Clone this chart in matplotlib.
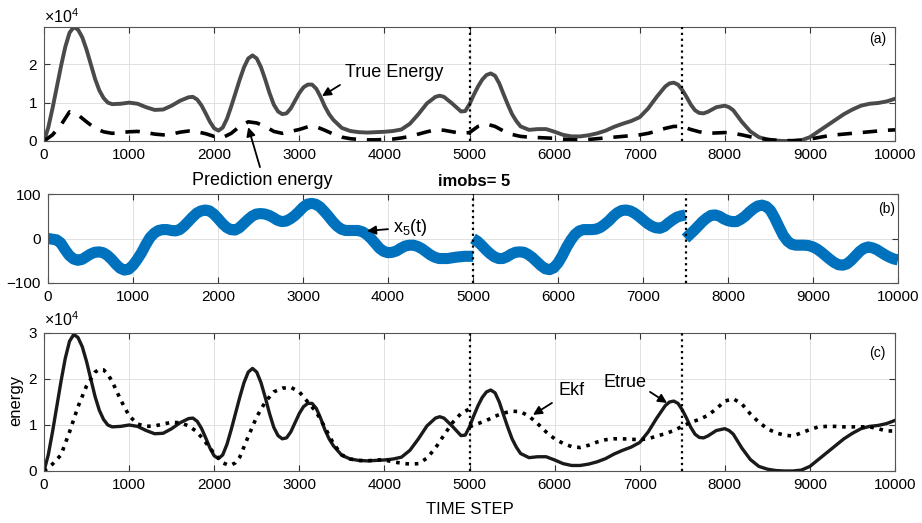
import numpy as np
import matplotlib
matplotlib.use("Agg")
import matplotlib.pyplot as plt

plt.rcParams['font.family'] = ['Liberation Sans', 'DejaVu Sans']
plt.rcParams['mathtext.fontset'] = 'custom'
plt.rcParams['mathtext.rm'] = 'Liberation Sans'
plt.rcParams['mathtext.it'] = 'Liberation Sans:italic'

# true energy (x1e4), (time step, value)
true_pts = [
    (0, 0.00), (50, 0.35), (100, 0.85), (150, 1.40), (200, 1.95), (250, 2.45),
    (300, 2.82), (350, 2.97), (400, 2.90), (450, 2.70), (500, 2.38), (550, 2.00),
    (600, 1.62), (650, 1.32), (700, 1.12), (750, 1.00), (800, 0.96), (900, 0.97),
    (1000, 1.00), (1100, 0.97), (1200, 0.88), (1300, 0.81), (1400, 0.82), (1500, 0.92),
    (1600, 1.05), (1700, 1.14), (1750, 1.15), (1800, 1.08), (1850, 0.93), (1900, 0.72),
    (1950, 0.50), (2000, 0.33), (2050, 0.27), (2100, 0.35), (2150, 0.58), (2200, 0.90),
    (2250, 1.25), (2300, 1.60), (2350, 1.92), (2400, 2.15), (2450, 2.23), (2500, 2.15),
    (2550, 1.92), (2600, 1.60), (2650, 1.25), (2700, 0.95), (2750, 0.77), (2800, 0.70),
    (2850, 0.72), (2900, 0.85), (2950, 1.05), (3000, 1.25), (3050, 1.40), (3100, 1.47),
    (3150, 1.47), (3200, 1.36), (3250, 1.15), (3300, 0.90), (3350, 0.70), (3400, 0.55),
    (3500, 0.34), (3600, 0.26), (3700, 0.23), (3800, 0.22), (3900, 0.23), (4000, 0.24),
    (4100, 0.26), (4200, 0.30), (4300, 0.45), (4400, 0.70), (4500, 0.98), (4600, 1.15),
    (4650, 1.18), (4700, 1.15), (4800, 0.97), (4900, 0.77), (4950, 0.78), (5000, 0.96),
    (5050, 1.20), (5100, 1.42), (5150, 1.60), (5200, 1.72), (5250, 1.76), (5300, 1.70),
    (5350, 1.50), (5400, 1.22), (5450, 0.95), (5500, 0.70), (5550, 0.52), (5600, 0.38),
    (5700, 0.29), (5800, 0.31), (5900, 0.31), (6000, 0.24), (6100, 0.16), (6200, 0.12),
    (6300, 0.12), (6400, 0.15), (6500, 0.20), (6600, 0.27), (6700, 0.37), (6800, 0.45),
    (6900, 0.52), (7000, 0.62), (7100, 0.85), (7200, 1.15), (7300, 1.42), (7350, 1.50),
    (7400, 1.52), (7450, 1.47), (7500, 1.33), (7550, 1.15), (7600, 0.95), (7650, 0.80),
    (7700, 0.73), (7750, 0.72), (7800, 0.76), (7900, 0.88), (8000, 0.92), (8050, 0.88),
    (8100, 0.80), (8200, 0.50), (8300, 0.25), (8400, 0.10), (8500, 0.04), (8600, 0.01),
    (8700, 0.00), (8800, 0.00), (8900, 0.02), (9000, 0.10), (9100, 0.25), (9200, 0.40),
    (9300, 0.55), (9400, 0.70), (9500, 0.82), (9600, 0.92), (9700, 0.97), (9800, 0.99),
    (9900, 1.03), (10000, 1.10)]
t_true, e_true = zip(*true_pts)

# prediction energy (x1e4), step 100
t_pred = np.arange(0, 10001, 100)
e_pred = [
    0.00, 0.16, 0.42, 0.76, 0.68, 0.50, 0.33, 0.24, 0.20, 0.22,
    0.24, 0.25, 0.22, 0.18, 0.16, 0.18, 0.23, 0.26, 0.24, 0.19,
    0.12, 0.09, 0.20, 0.38, 0.50, 0.47, 0.38, 0.25, 0.20, 0.25,
    0.30, 0.37, 0.37, 0.28, 0.18, 0.10, 0.06, 0.04, 0.03, 0.03,
    0.04, 0.05, 0.08, 0.12, 0.18, 0.24, 0.29, 0.28, 0.24, 0.20,
    0.22, 0.38, 0.44, 0.38, 0.26, 0.17, 0.12, 0.10, 0.09, 0.08,
    0.07, 0.05, 0.03, 0.03, 0.04, 0.06, 0.08, 0.10, 0.12, 0.14,
    0.16, 0.20, 0.26, 0.33, 0.38, 0.38, 0.30, 0.24, 0.20, 0.21,
    0.22, 0.20, 0.16, 0.11, 0.07, 0.04, 0.02, 0.01, 0.01, 0.02,
    0.05, 0.09, 0.13, 0.16, 0.18, 0.20, 0.22, 0.24, 0.26, 0.28,
    0.29]

# Kalman filter energy (x1e4), jumps at 5000
ekf1_pts = [
    (0, 0.00), (100, 0.15), (200, 0.35), (300, 0.85), (400, 1.40), (500, 1.85),
    (600, 2.15), (650, 2.21), (700, 2.20), (750, 2.10), (800, 1.95), (900, 1.55),
    (1000, 1.20), (1100, 1.02), (1200, 0.97), (1300, 0.98), (1400, 1.02), (1500, 1.06),
    (1600, 1.05), (1700, 0.98), (1800, 0.85), (1900, 0.62), (2000, 0.38), (2100, 0.18),
    (2150, 0.14), (2200, 0.13), (2250, 0.18), (2300, 0.30), (2400, 0.75), (2500, 1.18),
    (2600, 1.50), (2700, 1.72), (2800, 1.80), (2900, 1.82), (3000, 1.72), (3100, 1.50),
    (3200, 1.28), (3300, 0.95), (3400, 0.60), (3500, 0.35), (3600, 0.26), (3700, 0.23),
    (3800, 0.22), (3900, 0.24), (4000, 0.24), (4100, 0.20), (4200, 0.17), (4300, 0.15),
    (4400, 0.16), (4500, 0.28), (4600, 0.50), (4700, 0.78), (4800, 1.05), (4900, 1.25),
    (5000, 1.35)]
t_ekf1, e_ekf1 = zip(*ekf1_pts)
t_ekf2 = np.arange(5000, 10001, 100)
e_ekf2 = [
    0.96, 1.03, 1.10, 1.19, 1.26, 1.30, 1.29, 1.19, 1.03, 0.85,
    0.70, 0.60, 0.53, 0.51, 0.56, 0.63, 0.68, 0.70, 0.70, 0.69,
    0.68, 0.70, 0.76, 0.81, 0.88, 0.97, 1.06, 1.12, 1.21, 1.35,
    1.52, 1.57, 1.46, 1.24, 1.06, 0.92, 0.83, 0.78, 0.76, 0.83,
    0.90, 0.96, 0.97, 0.97, 0.96, 0.96, 0.96, 0.96, 0.92, 0.87,
    0.87]

# state x5(t), reset at 5000 and 7500
x5_seg1 = [
    (0, 0), (100, -3), (150, -10), (200, -25), (250, -38), (300, -46), (350, -49),
    (400, -47), (450, -41), (500, -35), (550, -31), (600, -30), (650, -32), (700, -38),
    (750, -47), (800, -58), (850, -67), (900, -71), (950, -69), (1000, -60), (1050, -47),
    (1100, -32), (1150, -14), (1200, 2), (1250, 12), (1300, 18), (1350, 20), (1400, 20),
    (1450, 18), (1500, 17), (1550, 20), (1600, 28), (1650, 38), (1700, 48), (1750, 57),
    (1800, 62), (1850, 64), (1900, 62), (1950, 55), (2000, 45), (2050, 34), (2100, 25),
    (2150, 20), (2200, 19), (2250, 24), (2300, 33), (2350, 42), (2400, 50), (2450, 55),
    (2500, 56), (2550, 55), (2600, 52), (2650, 47), (2700, 41), (2750, 38), (2800, 39),
    (2850, 44), (2900, 51), (2950, 60), (3000, 70), (3050, 77), (3100, 79), (3150, 77),
    (3200, 71), (3250, 61), (3300, 50), (3350, 38), (3400, 28), (3450, 21), (3500, 18),
    (3600, 18), (3650, 18), (3700, 15), (3750, 9), (3800, 0), (3850, -11), (3900, -22),
    (3950, -29), (4000, -32), (4050, -31), (4100, -28), (4150, -22), (4200, -17),
    (4250, -15), (4300, -15), (4350, -18), (4400, -23), (4450, -30), (4500, -37),
    (4550, -42), (4600, -45), (4700, -45), (4800, -42), (4900, -40), (5000, -40)]
x5_seg2 = [
    (5000, 0), (5050, -6), (5100, -15), (5150, -25), (5200, -34), (5250, -41),
    (5300, -45), (5350, -45), (5400, -41), (5450, -35), (5500, -31), (5550, -30),
    (5600, -31), (5650, -36), (5700, -43), (5750, -52), (5800, -61), (5850, -68),
    (5900, -70), (5950, -66), (6000, -55), (6050, -39), (6100, -20), (6150, -4),
    (6200, 9), (6250, 17), (6300, 20), (6350, 20), (6400, 20), (6450, 21), (6500, 25),
    (6550, 32), (6600, 40), (6650, 50), (6700, 58), (6750, 63), (6800, 64), (6850, 62),
    (6900, 57), (6950, 50), (7000, 42), (7050, 34), (7100, 28), (7150, 24), (7200, 23),
    (7250, 27), (7300, 35), (7350, 42), (7400, 48), (7450, 51), (7500, 53)]
x5_seg3 = [
    (7500, 0), (7550, 9), (7600, 18), (7650, 28), (7700, 38), (7750, 46), (7800, 52),
    (7850, 53), (7900, 50), (7950, 44), (8000, 40), (8050, 38), (8100, 38), (8150, 43),
    (8200, 50), (8250, 59), (8300, 67), (8350, 73), (8400, 75), (8450, 72), (8500, 63),
    (8550, 46), (8600, 26), (8650, 7), (8700, -6), (8750, -13), (8800, -15), (8900, -15),
    (8950, -16), (9000, -19), (9050, -24), (9100, -31), (9150, -39), (9200, -47),
    (9250, -54), (9300, -59), (9350, -60), (9400, -57), (9450, -49), (9500, -39),
    (9550, -29), (9600, -22), (9650, -19), (9700, -21), (9750, -25), (9800, -31),
    (9850, -37), (9900, -42), (9950, -46), (10000, -48)]

obs_times = [5000, 7500]
xticks = np.arange(0, 10001, 1000)

fig = plt.figure(figsize=(9.22, 5.23), dpi=100)
W, H = 922, 523


def make_ax(left, top, right, bottom):
    return fig.add_axes([left / W, 1 - bottom / H, (right - left) / W, (bottom - top) / H])


def style(ax):
    ax.set_xlim(0, 10000)
    ax.set_xticks(xticks)
    ax.grid(True, color='#dcdcdc', lw=0.6)
    ax.set_axisbelow(True)
    ax.tick_params(direction='in', length=4, width=0.8, top=True, right=True,
                   labelsize=11, color='#333333', pad=5)
    for s in ax.spines.values():
        s.set_color('#555555')
        s.set_linewidth(0.8)
    for v in obs_times:
        ax.axvline(v, color='k', ls=':', lw=1.6, zorder=5)


arrow = dict(arrowstyle='-|>', color='k', lw=1.3, mutation_scale=13, shrinkA=0, shrinkB=0)

# (a)
ax1 = make_ax(44, 27, 895, 141)
style(ax1)
ax1.plot(t_true, e_true, color='#4a4a4a', lw=2.8)
ax1.plot(t_pred, e_pred, color='k', lw=2.6, ls=(0, (4, 3)))
ax1.set_ylim(0, 2.97)
ax1.set_yticks([0, 1, 2])
ax1.text(3537, 1.78, 'True Energy', fontsize=13, va='center', ha='left')
ax1.annotate('', xy=(3267, 1.17), xytext=(3478, 1.46), arrowprops=arrow)
ax1.text(2562, -1.02, 'Prediction energy', fontsize=13, va='center', ha='center',
         clip_on=False)
ax1.annotate('', xy=(2400, 0.36), xytext=(2538, -0.68), arrowprops=arrow,
             annotation_clip=False)
ax1.text(0.98, 0.895, '(a)', transform=ax1.transAxes, fontsize=10, ha='center', va='center')
fig.text(44 / W, 1 - 17 / H, '×10$^4$', fontsize=11.5, ha='left', va='center')

fig.text(474 / W, 1 - 181 / H, 'imobs= 5', fontsize=12, fontweight='bold',
         ha='center', va='center')

# (b)
ax2 = make_ax(48, 194, 898, 283)
style(ax2)
for seg in (x5_seg1, x5_seg2, x5_seg3):
    tx, xv = zip(*seg)
    ax2.plot(tx, xv, color='#0072BD', lw=8, solid_capstyle='butt')
ax2.set_ylim(-100, 100)
ax2.set_yticks([-100, 0, 100])
ax2.text(4059, 24, 'x$_5$(t)', fontsize=13, va='center', ha='left')
ax2.annotate('', xy=(3753, 17), xytext=(4000, 21), arrowprops=arrow)
ax2.text(0.987, 0.83, '(b)', transform=ax2.transAxes, fontsize=10, ha='center', va='center')

# (c)
ax3 = make_ax(44, 333, 895, 471)
style(ax3)
ax3.plot(t_true, e_true, color='#1a1a1a', lw=2.4)
ax3.plot(t_ekf1, e_ekf1, color='k', lw=2.6, ls=(0, (1, 1.6)))
ax3.plot(t_ekf2, e_ekf2, color='k', lw=2.6, ls=(0, (1, 1.6)))
ax3.set_ylim(0, 3)
ax3.set_yticks([0, 1, 2, 3])
ax3.text(6204, 1.76, 'Ekf', fontsize=13, va='center', ha='center')
ax3.annotate('', xy=(5746, 1.22), xytext=(5969, 1.48), arrowprops=arrow)
ax3.text(6827, 1.93, 'Etrue', fontsize=13, va='center', ha='center')
ax3.annotate('', xy=(7321, 1.48), xytext=(7121, 1.72), arrowprops=arrow)
ax3.text(0.979, 0.855, '(c)', transform=ax3.transAxes, fontsize=10, ha='center', va='center')
fig.text(44 / W, 1 - 320 / H, '×10$^4$', fontsize=11.5, ha='left', va='center')

fig.text(16 / W, 1 - 400 / H, 'energy', fontsize=12, rotation=90, ha='center', va='center')
fig.text(470 / W, 1 - 510 / H, 'TIME STEP', fontsize=12, ha='center', va='center')

fig.savefig('out.png', dpi=100)
